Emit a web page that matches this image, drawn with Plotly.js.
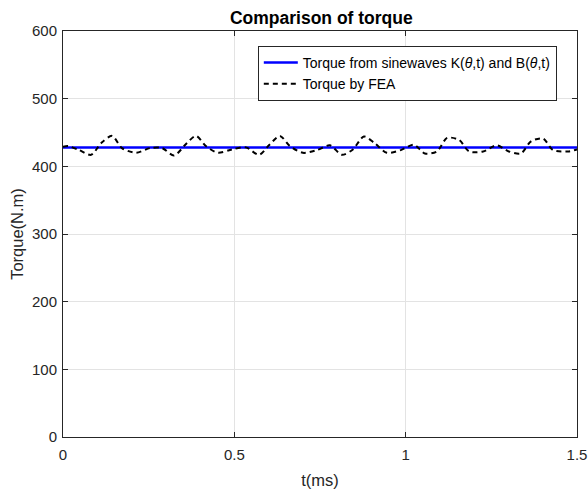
<!DOCTYPE html>
<html>
<head>
<meta charset="utf-8">
<script src="https://cdn.plot.ly/plotly-3.0.1.min.js"></script>
<style>html,body{margin:0;padding:0;background:#fff;}#chart{width:588px;height:489px;}</style>
</head>
<body>
<div id="chart"></div>
<script>
// Data
const timeSine = [0, 1.5];
const torqueSine = [428, 428];

const timeFEA = [0, 0.015, 0.047, 0.082, 0.111, 0.143, 0.172, 0.213, 0.254, 0.289,
  0.324, 0.359, 0.388, 0.417, 0.452, 0.493, 0.534, 0.572, 0.601, 0.633,
  0.662, 0.700, 0.741, 0.779, 0.814, 0.846, 0.878, 0.910, 0.945, 0.986,
  1.024, 1.056, 1.091, 1.121, 1.156, 1.185, 1.226, 1.266, 1.301, 1.336,
  1.366, 1.401, 1.430, 1.474, 1.5];
const torqueFEA = [429, 430, 424, 417, 434, 445, 427, 420, 427, 427,
  416, 433, 445, 430, 420, 425, 428, 417, 431, 445,
  430, 420, 424, 431, 417, 425, 444, 434, 420, 424,
  432, 419, 422, 442, 439, 422, 422, 431, 422, 419,
  437, 441, 424, 422, 425];

const xTicks = [0, 0.5, 1, 1.5];
const xTickText = ['0', '0.5', '1', '1.5'];
const yTicks = [0, 100, 200, 300, 400, 500, 600];

const FONT = 'Liberation Sans, Arial, sans-serif';

const traces = [
  {x: timeSine, y: torqueSine, type: 'scatter', mode: 'lines',
   name: 'Torque from sinewaves K(<i>θ</i>,t) and B(<i>θ</i>,t)',
   line: {color: '#0000ff', width: 2.5}},
  {x: timeFEA, y: torqueFEA, type: 'scatter', mode: 'lines',
   name: 'Torque by FEA',
   line: {color: '#000000', width: 2, dash: '5px,4px', shape: 'spline', smoothing: 0.8}}
];

const axisCommon = {
  showline: true, linecolor: '#262626', linewidth: 1, mirror: 'ticks',
  ticks: 'inside', ticklen: 5, tickcolor: '#262626', tickwidth: 1,
  showgrid: true, gridcolor: '#e3e3e3', gridwidth: 1, zeroline: false,
  tickfont: {family: FONT, size: 15, color: '#262626'}
};

const layout = {
  width: 588, height: 489,
  margin: {l: 63, r: 11, t: 31, b: 52},
  paper_bgcolor: '#ffffff', plot_bgcolor: '#ffffff',
  font: {family: FONT, color: '#262626'},
  title: {text: '<b>Comparison of torque</b>', x: 0.5465, xanchor: 'center', y: 0.963, yanchor: 'middle',
          font: {size: 17.5, color: '#000000', family: FONT}},
  xaxis: Object.assign({}, axisCommon, {range: [0, 1.5], tickvals: xTicks, ticktext: xTickText,
    ticklabelstandoff: 4,
    title: {text: 't(ms)', standoff: 14, font: {size: 16.5, color: '#262626', family: FONT}}}),
  yaxis: Object.assign({}, axisCommon, {range: [0, 600], tickvals: yTicks,
    ticklabelstandoff: 2,
    title: {text: 'Torque(N.m)', standoff: 4, font: {size: 16.5, color: '#262626', family: FONT}}}),
  showlegend: true,
  legend: {x: 0.379, y: 0.963, xanchor: 'left', yanchor: 'top',
    bgcolor: '#ffffff', bordercolor: '#262626', borderwidth: 1,
    font: {size: 14, color: '#000000', family: FONT},
    tracegroupgap: 0, itemwidth: 34}
};

Plotly.newPlot('chart', traces, layout, {displayModeBar: false, staticPlot: true});
</script>
</body>
</html>
